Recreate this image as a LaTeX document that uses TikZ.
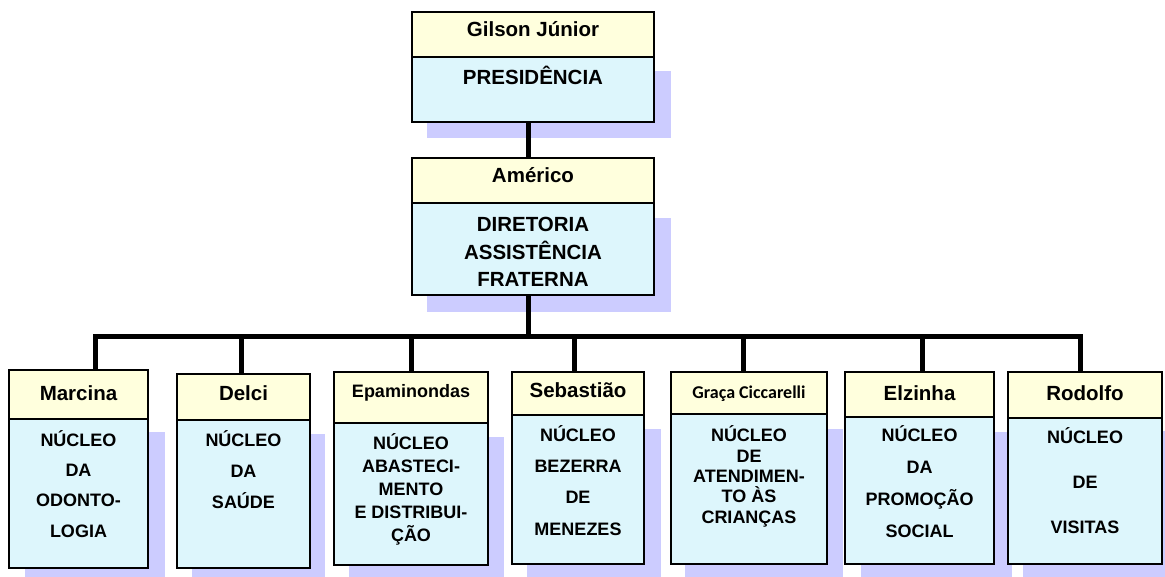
\documentclass[tikz,border=0pt]{standalone}
\usepackage{fontspec}
\setmainfont{Liberation Sans}
\newfontfamily\calib{Carlito}
\definecolor{hdrc}{RGB}{255,255,221}
\definecolor{bdyc}{RGB}{221,246,252}
\definecolor{shdc}{RGB}{204,204,255}
\newcommand\orgbox[6]{%
  \node[hbox, minimum width={#3-#2}, minimum height={#5-#4}] (#1h) at ({(#2+#3)/2},{(#4+#5)/2}) {};
  \node[bbox, minimum width={#3-#2}, minimum height={#6-#5}] (#1b) at ({(#2+#3)/2},{(#5+#6)/2}) {};
}
\newcommand\shd[4]{\fill[shdc] (#1,#3) rectangle (#2,#4);}
\begin{document}
\begin{tikzpicture}[x=1pt,y=-1pt,
  hbox/.style={draw=black, line width=2pt, fill=hdrc, inner sep=0pt},
  bbox/.style={draw=black, line width=2pt, fill=bdyc, inner sep=0pt},
  conn/.style={line width=5pt},
  htext/.style={anchor=base, inner sep=0pt, font=\fontsize{20.5}{24}\selectfont\bfseries},
  btext/.style={anchor=base, inner sep=0pt, align=center, font=\fontsize{18}{#1}\selectfont\bfseries},
]
\useasboundingbox (0,0) rectangle (1165,577);
% shadows
\shd{427}{671}{71}{138}
\shd{427}{671}{218}{312}
\shd{25}{165}{432}{577}
\shd{192}{325}{434}{577}
\shd{349}{504}{437}{577}
\shd{527}{661}{429}{577}
\shd{685}{843}{429}{577}
\shd{861}{1012}{432}{577}
\shd{1023}{1165}{431}{577}
% boxes
\orgbox{p}{412}{654}{12}{57}{122}
\orgbox{d}{412}{654}{158}{203}{295}
\orgbox{a}{9}{148}{370}{419}{568}
\orgbox{b}{177}{310}{374}{420}{568}
\orgbox{c}{334}{488}{372}{423}{565}
\orgbox{e}{512}{644}{372}{415}{564}
\orgbox{f}{671}{827}{372}{414}{564}
\orgbox{g}{845}{994}{372}{417}{564}
\orgbox{k}{1008}{1162}{372}{418}{564}
% connectors
\coordinate (bus0) at (528,337);
\coordinate (busL) at (95,337);
\coordinate (busR) at (1080,337);
\draw[conn] (pb.south -| bus0) -- (dh.north -| bus0);
\draw[conn] (db.south -| bus0) -- (bus0);
\draw[conn, line cap=rect] (busL) -- (busR);
\draw[conn] (busL) -- (ah.north -| busL);
\coordinate (bus2) at (241,337);
\coordinate (bus3) at (411,337);
\coordinate (bus4) at (574,337);
\coordinate (bus5) at (743,337);
\coordinate (bus6) at (922,337);
\draw[conn] (bus2) -- (bh.north -| bus2);
\draw[conn] (bus3) -- (ch.north -| bus3);
\draw[conn] (bus4) -- (eh.north -| bus4);
\draw[conn] (bus5) -- (fh.north -| bus5);
\draw[conn] (bus6) -- (gh.north -| bus6);
\draw[conn] (busR) -- (kh.north -| busR);
% texts (anchor base = baseline of the last line)
\node[htext] (tp1) at (533,37) {Gilson Júnior};
\node[btext=24, font=\fontsize{20.5}{24}\selectfont\bfseries] (tp2) at (533,85) {PRESIDÊNCIA};
\node[htext] (td1) at (533,183) {Américo};
\node[btext=27.5, font=\fontsize{20.5}{27.5}\selectfont\bfseries] (td2) at (533,287) {DIRETORIA\\ASSISTÊNCIA\\FRATERNA};
\node[htext] (ta1) at (78.5,400) {Marcina};
\node[btext=30.3] (ta2) at (78.5,537) {NÚCLEO\\DA\\ODONTO-\\LOGIA};
\node[htext] (tb1) at (243.5,400) {Delci};
\node[btext=31] (tb2) at (243.5,508) {NÚCLEO\\DA\\SAÚDE};
\node[htext, font=\fontsize{18}{22}\selectfont\bfseries] (tc1) at (411,397) {Epaminondas};
\node[btext=23] (tc2) at (411,541) {NÚCLEO\\ABASTECI-\\MENTO\\E DISTRIBUI-\\ÇÃO};
\node[htext] (te1) at (578,397) {Sebastião};
\node[btext=31.3] (te2) at (578,535) {NÚCLEO\\BEZERRA\\DE\\MENEZES};
\node[htext, font=\fontsize{18}{22}\selectfont\calib\bfseries] (tf1) at (749,398) {Graça Ciccarelli};
\node[btext=20.3] (tf2) at (749,523) {NÚCLEO\\DE\\ATENDIMEN-\\TO ÀS\\CRIANÇAS};
\node[htext] (tg1) at (919.5,400) {Elzinha};
\node[btext=31.7] (tg2) at (919.5,537) {NÚCLEO\\DA\\PROMOÇÃO\\SOCIAL};
\node[htext] (tk1) at (1085,400) {Rodolfo};
\node[btext=45] (tk2) at (1085,533) {NÚCLEO\\DE\\VISITAS};
\end{tikzpicture}
\end{document}
